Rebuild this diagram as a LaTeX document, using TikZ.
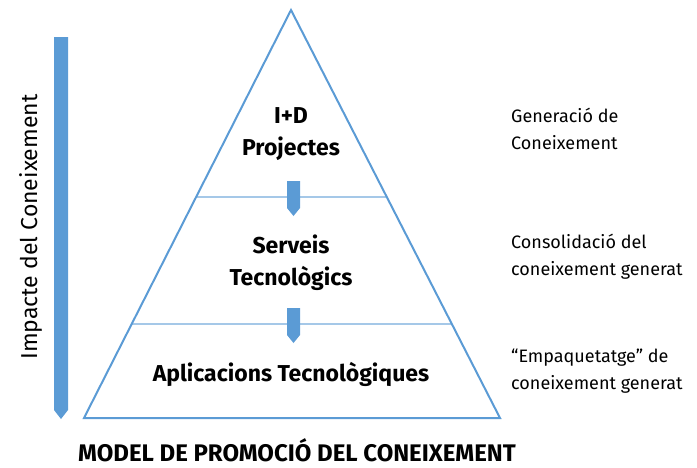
\documentclass[tikz,border=0pt]{standalone}
\usepackage{fontspec}
\setmainfont{Fira Sans}
\usetikzlibrary{positioning,calc}
\definecolor{pyrblue}{RGB}{91,155,213}
\definecolor{pyrlight}{RGB}{165,200,232}

\begin{document}
\begin{tikzpicture}[x=1pt,y=-1pt,
		level/.style={font=\bfseries\fontsize{23}{32}\selectfont, align=center},
		note/.style={font=\fontsize{18}{27}\selectfont, align=left, anchor=west, inner sep=0pt},
		divider/.style={draw=pyrlight, line width=2pt},
		blockarrow/.style={fill=pyrblue}]
			\useasboundingbox (0,0) rectangle (697,467);
			\coordinate (apex) at (291,10);
			\coordinate (base_l) at (84,418);
			\coordinate (base_r) at (500,418);
			% dividers
			\draw[divider] ($(apex)!0.458!(base_l)$) coordinate (d1_l) -- ($(apex)!0.458!(base_r)$) coordinate (d1_r);
			\draw[divider] ($(apex)!0.770!(base_l)$) coordinate (d2_l) -- ($(apex)!0.770!(base_r)$) coordinate (d2_r);
			\draw[pyrblue, line width=2pt, line join=miter] (apex) -- (base_r) -- (base_l) -- cycle;
			% arrows between levels
			\foreach \t/\b in {181/208, 308/335}
				\fill[blockarrow] (287,\t) -- (300,\t) -- (300,\b) -- (293.5,\b+8) -- (287,\b) -- cycle;
			\fill[blockarrow] (54,37) -- (68,37) -- (68,410) -- (61,419) -- (54,410) -- cycle;
			% levels
			\node[level] (l_rd) at (291,134) {I+D\\Projectes};
			\node[level] (l_serv) at (291,263) {Serveis\\Tecnològics};
			\node[level] (l_apl) at (291,374) {Aplicacions Tecnològiques};
			% notes
			\node[note] (n_gen) at (511,129) {Generació de\\Coneixement};
			\node[note] (n_cons) at (511,257) {Consolidació del\\coneixement generat};
			\node[note] (n_emp) at (511,371) {“Empaquetatge” de\\coneixement generat};
			\node[rotate=90, font=\fontsize{23}{25}\selectfont] (impact) at (31,227) {Impacte del Coneixement};
			\node[anchor=base, inner sep=0pt, font=\bfseries\fontsize{24}{26}\selectfont] (title) at (297,461) {MODEL DE PROMOCIÓ DEL CONEIXEMENT};
		\end{tikzpicture}
\end{document}
